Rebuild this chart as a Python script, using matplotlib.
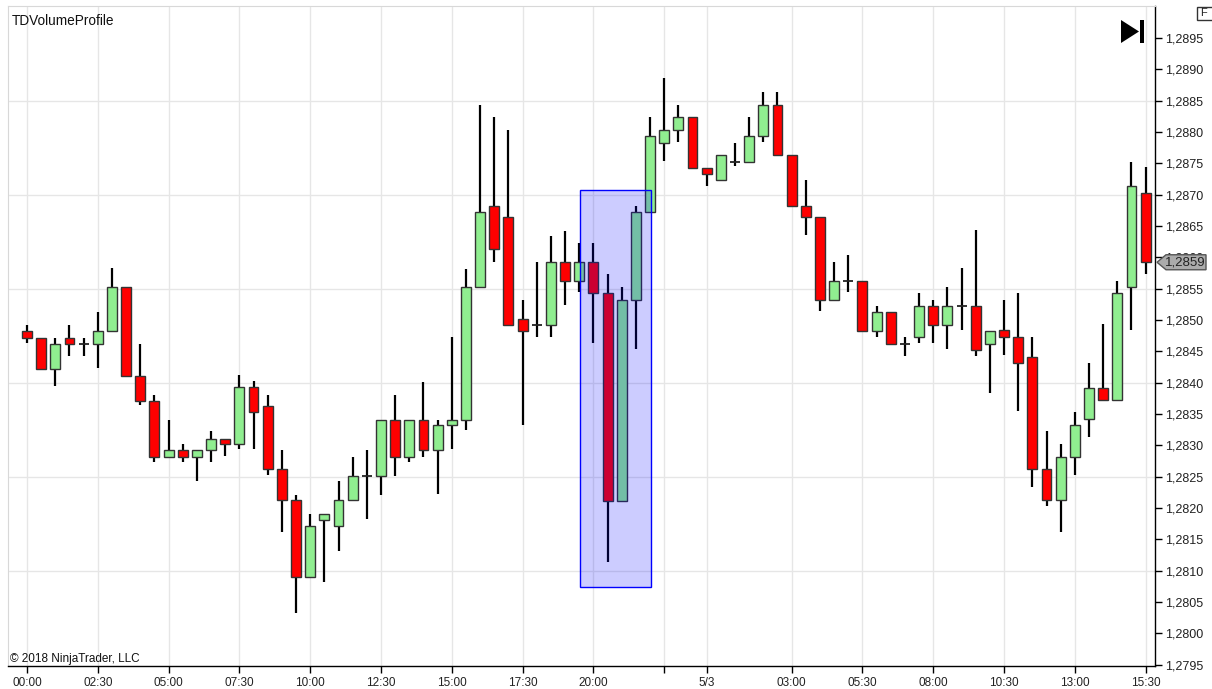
import numpy as np
import matplotlib
matplotlib.use("Agg")
import matplotlib.pyplot as plt
from matplotlib.patches import Rectangle, Polygon

plt.rcParams['font.family'] = ['Liberation Sans', 'DejaVu Sans']

# 30 menit bar, OHLC
opens = [1.28483, 1.28471, 1.28422, 1.28471, 1.28462, 1.28462, 1.28483, 1.28552, 1.28411, 1.28371,
         1.28281, 1.28292, 1.28281, 1.28292, 1.28310, 1.28302, 1.28393, 1.28362, 1.28262, 1.28212,
         1.28090, 1.28181, 1.28171, 1.28212, 1.28251, 1.28251, 1.28341, 1.28282, 1.28341, 1.28292,
         1.28332, 1.28341, 1.28552, 1.28682, 1.28664, 1.28501, 1.28492, 1.28492, 1.28592, 1.28562,
         1.28592, 1.28543, 1.28211, 1.28532, 1.28673, 1.28783, 1.28803, 1.28823, 1.28743, 1.28724,
         1.28752, 1.28752, 1.28793, 1.28843, 1.28763, 1.28682, 1.28664, 1.28532, 1.28562, 1.28562,
         1.28482, 1.28512, 1.28462, 1.28472, 1.28522, 1.28492, 1.28522, 1.28522, 1.28462, 1.28484,
         1.28472, 1.28441, 1.28262, 1.28212, 1.28282, 1.28342, 1.28392, 1.28372, 1.28553, 1.28703]
highs = [1.28492, 1.28471, 1.28471, 1.28492, 1.28471, 1.28513, 1.28583, 1.28552, 1.28462, 1.28381,
         1.28341, 1.28302, 1.28292, 1.28322, 1.28310, 1.28412, 1.28402, 1.28381, 1.28292, 1.28221,
         1.28191, 1.28190, 1.28243, 1.28282, 1.28292, 1.28341, 1.28381, 1.28341, 1.28401, 1.28341,
         1.28472, 1.28582, 1.28843, 1.28823, 1.28803, 1.28532, 1.28592, 1.28634, 1.28642, 1.28622,
         1.28622, 1.28573, 1.28552, 1.28682, 1.28823, 1.28886, 1.28843, 1.28823, 1.28743, 1.28763,
         1.28783, 1.28824, 1.28864, 1.28864, 1.28763, 1.28724, 1.28664, 1.28593, 1.28604, 1.28562,
         1.28522, 1.28512, 1.28472, 1.28543, 1.28532, 1.28553, 1.28583, 1.28644, 1.28483, 1.28532,
         1.28543, 1.28472, 1.28323, 1.28302, 1.28353, 1.28432, 1.28494, 1.28562, 1.28752, 1.28744]
lows = [1.28463, 1.28422, 1.28394, 1.28442, 1.28442, 1.28424, 1.28483, 1.28411, 1.28364, 1.28273,
        1.28281, 1.28273, 1.28243, 1.28273, 1.28283, 1.28294, 1.28294, 1.28252, 1.28162, 1.28032,
        1.28090, 1.28082, 1.28131, 1.28212, 1.28183, 1.28221, 1.28251, 1.28274, 1.28282, 1.28222,
        1.28294, 1.28324, 1.28552, 1.28593, 1.28492, 1.28333, 1.28473, 1.28473, 1.28524, 1.28544,
        1.28463, 1.28113, 1.28211, 1.28454, 1.28673, 1.28754, 1.28784, 1.28743, 1.28714, 1.28724,
        1.28745, 1.28752, 1.28784, 1.28763, 1.28682, 1.28636, 1.28515, 1.28532, 1.28544, 1.28482,
        1.28472, 1.28462, 1.28442, 1.28463, 1.28463, 1.28454, 1.28484, 1.28442, 1.28383, 1.28444,
        1.28354, 1.28233, 1.28203, 1.28162, 1.28253, 1.28313, 1.28372, 1.28372, 1.28484, 1.28574]
closes = [1.28471, 1.28422, 1.28462, 1.28462, 1.28462, 1.28483, 1.28552, 1.28411, 1.28371, 1.28281,
          1.28292, 1.28281, 1.28292, 1.28310, 1.28302, 1.28393, 1.28353, 1.28262, 1.28212, 1.28090,
          1.28171, 1.28190, 1.28212, 1.28251, 1.28251, 1.28341, 1.28281, 1.28341, 1.28292, 1.28332,
          1.28341, 1.28552, 1.28673, 1.28613, 1.28492, 1.28483, 1.28492, 1.28592, 1.28562, 1.28592,
          1.28543, 1.28211, 1.28532, 1.28673, 1.28793, 1.28803, 1.28823, 1.28743, 1.28733, 1.28763,
          1.28752, 1.28793, 1.28843, 1.28763, 1.28682, 1.28664, 1.28532, 1.28562, 1.28562, 1.28482,
          1.28512, 1.28462, 1.28462, 1.28522, 1.28492, 1.28522, 1.28522, 1.28452, 1.28483, 1.28472,
          1.28432, 1.28262, 1.28212, 1.28282, 1.28332, 1.28392, 1.28372, 1.28543, 1.28713, 1.28592]

# label sumbu waktu (index bar)
tick_pos = [0, 5, 10, 15, 20, 25, 30, 35, 40, 45, 48, 54, 59, 64, 69, 74, 79]
tick_lbl = ['00:00', '02:30', '05:00', '07:30', '10:00', '12:30', '15:00', '17:30', '20:00', '',
            '5/3', '03:00', '05:30', '08:00', '10:30', '13:00', '15:30']

# kotak volume profile
box_start, box_end = 39.05, 44.05
box_low, box_high = 1.28074, 1.28707
last_price = 1.28592

W, H = 1212, 689
fig = plt.figure(figsize=(W / 100, H / 100), dpi=100)
ax = fig.add_axes([8 / W, 1 - 666 / H, 1147 / W, 660 / H])

x = np.arange(len(opens))
o = np.array(opens)
c = np.array(closes)

# grid
for p in np.arange(1.2810, 1.28951, 0.0015):
    ax.axhline(p, color='#E6E6E6', lw=1, zorder=0)
for t in tick_pos:
    ax.axvline(t, color='#E6E6E6', lw=1, zorder=0)

# sumbu lilin
ax.vlines(x, lows, highs, color='black', lw=1.6, zorder=2)
up = c > o
down = c < o
flat = c == o
ax.bar(x[up], c[up] - o[up], bottom=o[up], width=0.7, color='#90EE90',
       edgecolor='#333333', lw=1, zorder=3)
ax.bar(x[down], c[down] - o[down], bottom=o[down], width=0.7, color='#FF0000',
       edgecolor='#333333', lw=1, zorder=3)
ax.hlines(o[flat], x[flat] - 0.35, x[flat] + 0.35, color='#222222', lw=1.3, zorder=3)

ax.add_patch(Rectangle((box_start, box_low), box_end - box_start, box_high - box_low,
                       facecolor=(0, 0, 1, 0.2), edgecolor='#0000FF', lw=1, zorder=5))

ax.set_xlim(-1.34, 79.66)
ax.set_ylim(1.279478, 1.290009)

ax.set_xticks(tick_pos)
ax.set_xticklabels(tick_lbl, fontsize=8.5, color='#222222')
ax.tick_params(axis='x', length=5, width=1, color='black', pad=3)

yt = np.arange(1.2795, 1.28951, 0.0005)
ax.yaxis.tick_right()
ax.set_yticks(yt)
ax.set_yticklabels([f"{v:.4f}".replace('.', ',') for v in yt], fontsize=9, color='#222222')
ax.tick_params(axis='y', length=5, width=1, color='black', pad=2)

for s in ['left', 'top']:
    ax.spines[s].set_color('#D8D8D8')
for s in ['right', 'bottom']:
    ax.spines[s].set_color('black')
    ax.spines[s].set_linewidth(1)

ax.text(0.003, 0.977, 'TDVolumeProfile', transform=ax.transAxes, fontsize=9.8,
        va='center', ha='left', color='#111111')
ax.text(0.002, 0.011, '\u00a9 2018 NinjaTrader, LLC', transform=ax.transAxes, fontsize=8.5,
        va='center', ha='left', color='#111111')

# penanda harga terakhir
tr = ax.get_yaxis_transform()
hh = 7.5 / 62670
px = lambda v: (v - 8) / 1147
marker = Polygon([(px(1157), last_price), (px(1166), last_price + hh), (px(1206), last_price + hh),
                  (px(1206), last_price - hh), (px(1166), last_price - hh)], closed=True,
                 transform=tr, facecolor='#ABABAB', edgecolor='#555555', lw=1, clip_on=False, zorder=6)
ax.add_patch(marker)
ax.text(px(1185), last_price, f"{last_price:.4f}".replace('.', ','), transform=tr, fontsize=9.5,
        ha='center', va='center', color='#222222', clip_on=False, zorder=7)

# ikon "lompat ke akhir"
fx = lambda v: v / W
fy = lambda v: 1 - v / H
fig.patches.append(Polygon([(fx(1121), fy(20)), (fx(1139), fy(31.5)), (fx(1121), fy(43))],
                           closed=True, transform=fig.transFigure, facecolor='black', edgecolor='none'))
fig.patches.append(Rectangle((fx(1140), fy(43)), 4 / W, 23 / H, transform=fig.transFigure,
                             facecolor='black', edgecolor='none'))
fig.patches.append(Rectangle((fx(1197), fy(20)), 20 / W, 13 / H, transform=fig.transFigure,
                             facecolor='white', edgecolor='#333333', lw=1))
fig.text(fx(1200), fy(13.5), 'F', fontsize=8, va='center', ha='left', color='#222222')

plt.savefig('out.png', dpi=100)
